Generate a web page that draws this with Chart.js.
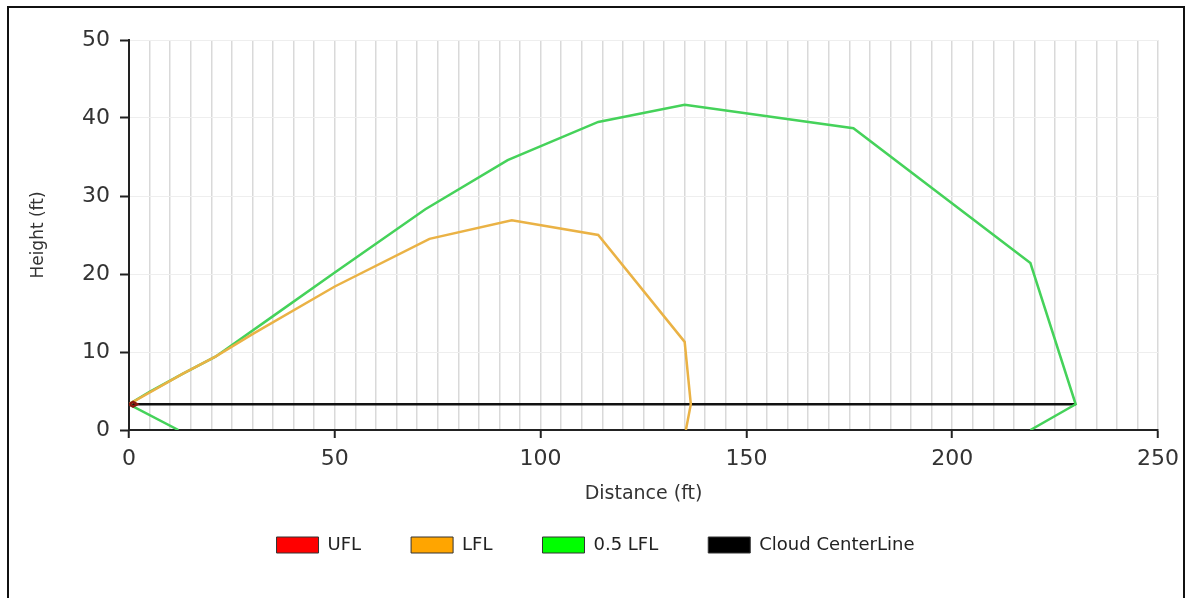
<!DOCTYPE html>
<html>
<head>
<meta charset="utf-8">
<script src="https://cdn.jsdelivr.net/npm/chart.js@4.4.1/dist/chart.umd.min.js"></script>
<style>
  html, body { margin: 0; padding: 0; background: #fff; }
  #wrap { position: relative; width: 1190px; height: 598px; overflow: hidden; }
  #wrap canvas { position: absolute; left: 0; top: 0; }
  #frame { position: absolute; left: 7px; top: 6px; width: 1174px; height: 620px;
           border: 2px solid #111; border-bottom: none; pointer-events: none; }
</style>
</head>
<body>
<div id="wrap">
  <canvas id="chart" width="1190" height="598"></canvas>
  <div id="frame"></div>
</div>
<script>
// Series names (legend order)
const seriesNames = ['UFL', 'LFL', '0.5 LFL', 'Cloud CenterLine'];

// UFL contour (tiny, at the release point)
const uflX = [0, 1, 2, 1, 0];
const uflY = [3.3, 3.6, 3.3, 3.0, 3.3];

// LFL contour
const lflX = [0, 13, 21, 30, 50, 73, 93, 114, 135, 136.5, 135.3];
const lflY = [3.3, 7.2, 9.4, 12.3, 18.4, 24.5, 26.9, 25, 11.3, 3.3, 0];

// 0.5 LFL contour
const halfLflX = [12, 0, 5, 13, 21, 35, 50, 72, 92, 114, 135, 176, 219, 230, 219];
const halfLflY = [0, 3.3, 4.9, 7.2, 9.4, 14.6, 20.2, 28.3, 34.6, 39.5, 41.7, 38.7, 21.4, 3.3, 0];

// Cloud centerline
const centerX = [0, 230];
const centerY = [3.3, 3.3];

// Axis ranges / tick steps
const xMin = 0, xMax = 250, xGridStep = 5, xLabelStep = 50;
const yMin = 0, yMax = 50, yStep = 10;

const toPoints = (xs, ys) => xs.map((x, i) => ({ x: x, y: ys[i] }));

const lineColors = ['#8a1a10', '#eab245', '#45d25a', '#111111'];
const legendFill = ['#ff0000', '#ffa500', '#00ff00', '#000000'];

const dataSets = [
  toPoints(uflX, uflY),
  toPoints(lflX, lflY),
  toPoints(halfLflX, halfLflY),
  toPoints(centerX, centerY)
];

const FONT = "'DejaVu Sans', 'Liberation Sans', sans-serif";

new Chart(document.getElementById('chart'), {
  type: 'scatter',
  data: {
    datasets: dataSets.map((pts, i) => ({
      label: seriesNames[i],
      data: pts,
      showLine: true,
      borderColor: lineColors[i],
      backgroundColor: legendFill[i],
      borderWidth: 2.5,
      pointRadius: 0,
      tension: 0
    }))
  },
  options: {
    responsive: false,
    animation: false,
    layout: { padding: { left: 8, right: 7, top: 40, bottom: 34 } },
    plugins: {
      tooltip: { enabled: false },
      legend: {
        position: 'bottom',
        labels: {
          boxWidth: 42,
          boxHeight: 16,
          padding: 50,
          color: '#222',
          font: { family: FONT, size: 18 },
          generateLabels: chart => seriesNames.map((name, i) => ({
            text: name,
            fillStyle: legendFill[i],
            strokeStyle: '#333',
            lineWidth: 1,
            hidden: false,
            datasetIndex: i,
            fontColor: '#222'
          }))
        }
      }
    },
    scales: {
      x: {
        type: 'linear',
        min: xMin, max: xMax,
        afterFit: s => { s.height = 56; s.paddingRight = 32; },
        ticks: {
          stepSize: xGridStep,
          autoSkip: false,
          maxRotation: 0,
          padding: 8,
          color: '#333',
          font: { family: FONT, size: 22 },
          callback: v => (v % xLabelStep === 0 ? v : '')
        },
        grid: {
          color: '#d9d9d9',
          lineWidth: 1.5,
          tickLength: 8,
          tickWidth: 2,
          tickColor: ctx => (ctx.tick && ctx.tick.value % xLabelStep === 0 ? '#222' : 'rgba(0,0,0,0)')
        },
        border: { color: '#222', width: 2 },
        title: {
          display: true,
          text: 'Distance (ft)',
          color: '#333',
          font: { family: FONT, size: 19 },
          padding: { top: 0, bottom: -19 }
        }
      },
      y: {
        min: yMin, max: yMax,
        afterFit: s => { s.width = 121; },
        ticks: {
          stepSize: yStep,
          padding: 10,
          color: '#333',
          font: { family: FONT, size: 22 }
        },
        grid: {
          color: '#eeeeee',
          lineWidth: 1,
          tickLength: 9,
          tickWidth: 2,
          tickColor: '#222'
        },
        border: { color: '#222', width: 2 },
        title: {
          display: true,
          text: 'Height (ft)',
          color: '#333',
          font: { family: FONT, size: 17 },
          padding: { top: 20, bottom: 0 }
        }
      }
    }
  }
});
</script>
</body>
</html>
